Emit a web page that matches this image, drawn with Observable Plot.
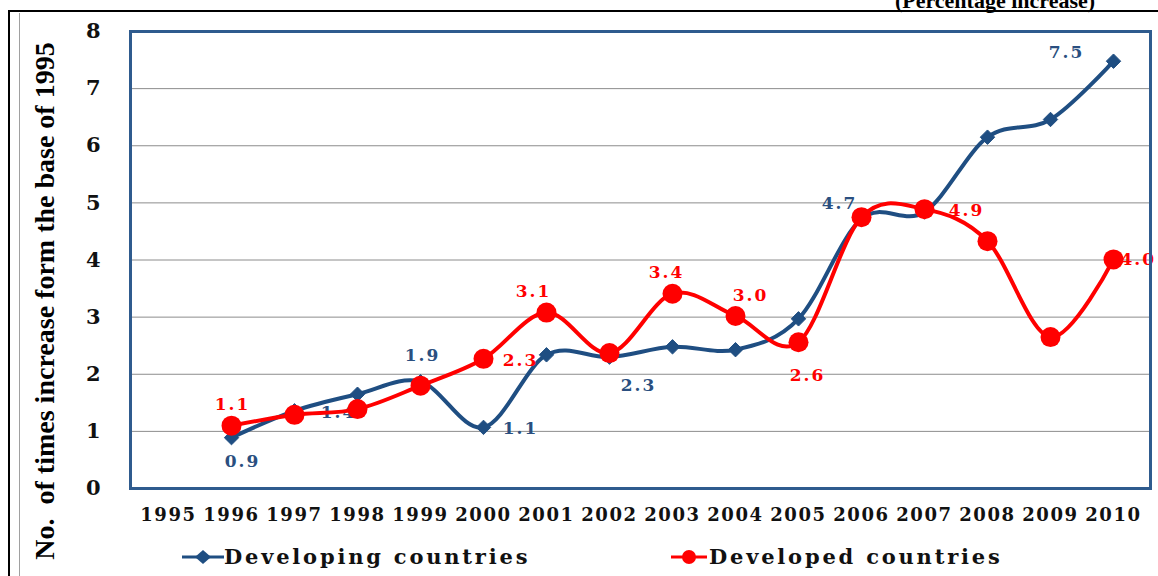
<!DOCTYPE html>
<html>
<head>
<meta charset="utf-8">
<script src="https://cdn.jsdelivr.net/npm/d3@7"></script>
<script src="https://cdn.jsdelivr.net/npm/@observablehq/plot@0.6"></script>
<style>
  body { margin: 0; background: #fff; }
  #wrap { position: relative; width: 1158px; height: 576px; overflow: hidden; background: #fff; }
  #chart { position: absolute; left: 0; top: 0; }
  #chart g[aria-label="x-axis tick label"] text { letter-spacing: 1.6px; }
  #chart g[aria-label="text"] text { letter-spacing: 2px; }
  .frameTop { position: absolute; left: 8px; top: 10px; width: 1160px; height: 0; border-top: 2px solid #000; }
  .frameLeft { position: absolute; left: 8px; top: 10px; width: 0; height: 580px; border-left: 2px solid #000; }
  .frameGrey { position: absolute; left: 19px; top: 13px; width: 0; height: 570px; border-left: 1px solid #a0a0a0; }
  .topNote { position: absolute; left: 845px; top: -9px; width: 300px; text-align: center;
             font: bold 22px "Liberation Serif", serif; line-height: 20px; color: #000; white-space: nowrap; }
  .yTitle { position: absolute; left: 45px; top: 301px; transform: translate(-50%, -50%) rotate(-90deg);
            font: bold 28px "Liberation Serif", serif; white-space: nowrap; color: #000; line-height: 30px; }
  .legKey { position: absolute; }
  .legText { position: absolute; font: bold 21px "DejaVu Serif", serif; letter-spacing: 2.8px;
             line-height: 24px; color: #111; white-space: nowrap; }
</style>
</head>
<body>
<div id="wrap">
  <div id="chart"></div>
  <div class="frameTop"></div>
  <div class="frameLeft"></div>
  <div class="frameGrey"></div>
  <div class="topNote" id="topNote"></div>
  <div class="yTitle" id="yTitle"></div>
  <div id="legend"></div>
</div>
<script>
// ---- data ----
const years = [1995, 1996, 1997, 1998, 1999, 2000, 2001, 2002, 2003, 2004, 2005, 2006, 2007, 2008, 2009, 2010];
const dataYears = [1996, 1997, 1998, 1999, 2000, 2001, 2002, 2003, 2004, 2005, 2006, 2007, 2008, 2009, 2010];
const developing = [0.89, 1.36, 1.65, 1.87, 1.07, 2.34, 2.30, 2.48, 2.43, 2.97, 4.72, 4.84, 6.15, 6.46, 7.48];
const developed  = [1.10, 1.29, 1.39, 1.80, 2.27, 3.08, 2.37, 3.41, 3.02, 2.56, 4.75, 4.89, 4.33, 2.65, 4.01];
const yTicks = [0, 1, 2, 3, 4, 5, 6, 7, 8];
const gridValues = [1, 2, 3, 4, 5, 6, 7];
const developingLabelYears = [1996, 1997, 1999, 2000, 2002, 2006, 2010];
const developingLabelTexts = ["0.9", "1.4", "1.9", "1.1", "2.3", "4.7", "7.5"];
const developedLabelYears = [1996, 2000, 2001, 2003, 2004, 2005, 2007, 2010];
const developedLabelTexts = ["1.1", "2.3", "3.1", "3.4", "3.0", "2.6", "4.9", "4.0"];
const seriesNames = ["Developing countries", "Developed countries"];
const yTitleText = "No.\u00a0 of times increase form the base of 1995";
const topNoteText = "(Percentage increase)";

// ---- styles ----
const BLUE = "#1F4E82";
const BLUE_TEXT = "#2A4F80";
const RED = "#FF0000";
const FRAME = "#2F5B8E";
// label offsets (px) keyed by year
const devOffsets = {1996: [11, 24], 1997: [44, 2], 1999: [2, -26], 2000: [37, 1], 2002: [29, 28], 2006: [-22, -15], 2010: [-47, -9]};
const redOffsets = {1996: [1, -21], 2000: [37, 2], 2001: [-13, -21], 2003: [-6, -21], 2004: [15, -20], 2005: [9, 33], 2007: [42, 1], 2010: [7, 0]};

const rows = dataYears.map((y, i) => ({year: y, developing: developing[i], developed: developed[i]}));
const valueOf = (key, yr) => rows.find(r => r.year === yr)[key];

const devLabelRows = developingLabelYears.map((yr, i) => ({year: yr, value: valueOf("developing", yr), text: developingLabelTexts[i]}));
const redLabelRows = developedLabelYears.map((yr, i) => ({year: yr, value: valueOf("developed", yr), text: developedLabelTexts[i]}));

const labelFont = {fontFamily: "DejaVu Serif", fontWeight: "bold", fontSize: 17};

const devLabelMarks = devLabelRows.map(d => Plot.text([d], {
  x: "year", y: "value", text: "text", fill: BLUE_TEXT, ...labelFont,
  dx: devOffsets[d.year][0], dy: devOffsets[d.year][1]
}));
const redLabelMarks = redLabelRows.map(d => Plot.text([d], {
  x: "year", y: "value", text: "text", fill: RED, ...labelFont,
  textAnchor: d.year === 2010 ? "start" : "middle",
  dx: redOffsets[d.year][0], dy: redOffsets[d.year][1]
}));

const chart = Plot.plot({
  width: 1158,
  height: 576,
  marginLeft: 130,
  marginRight: 8,
  marginTop: 31,
  marginBottom: 88,
  style: {background: "transparent", fontFamily: "DejaVu Serif", overflow: "visible"},
  x: {type: "point", domain: years, padding: 0.5, label: null},
  y: {domain: [0, 8], label: null},
  marks: [
    Plot.ruleY(gridValues, {stroke: "#8c8c8c", strokeWidth: 1}),
    Plot.axisX({tickSize: 0, tickPadding: 20, tickFormat: d => String(d), label: null,
                fontSize: 18, fontWeight: "bold", fill: "#111"}),
    Plot.axisY({ticks: yTicks, tickSize: 0, tickPadding: 30, tickFormat: d => String(d), label: null,
                fontSize: 21, fontWeight: "bold", fill: "#111"}),
    Plot.line(rows, {x: "year", y: "developing", stroke: BLUE, strokeWidth: 4, curve: "cardinal", tension: 0}),
    Plot.dot(rows, {x: "year", y: "developing", symbol: "diamond2", r: 6.5, fill: BLUE, stroke: BLUE, strokeWidth: 1}),
    ...devLabelMarks,
    Plot.line(rows, {x: "year", y: "developed", stroke: RED, strokeWidth: 4, curve: "cardinal", tension: 0}),
    Plot.dot(rows, {x: "year", y: "developed", r: 10, fill: RED, stroke: "none"}),
    ...redLabelMarks,
    Plot.frame({stroke: FRAME, strokeWidth: 3})
  ]
});
document.getElementById("chart").appendChild(chart);

document.getElementById("topNote").textContent = topNoteText;
document.getElementById("yTitle").textContent = yTitleText;

// legend (HTML, below plot area)
const legend = document.getElementById("legend");
legend.innerHTML = `
  <svg class="legKey" style="left:182px;top:547px" width="42" height="20">
    <line x1="0" y1="10" x2="42" y2="10" stroke="${BLUE}" stroke-width="3"/>
    <polygon points="21,3 29,10 21,17 13,10" fill="${BLUE}"/>
  </svg>
  <div class="legText" style="left:224px;top:545px">${seriesNames[0]}</div>
  <svg class="legKey" style="left:671px;top:547px" width="36" height="20">
    <line x1="0" y1="10" x2="36" y2="10" stroke="${RED}" stroke-width="3"/>
    <circle cx="18" cy="10" r="7" fill="${RED}"/>
  </svg>
  <div class="legText" style="left:709px;top:545px">${seriesNames[1]}</div>
`;
</script>
</body>
</html>
